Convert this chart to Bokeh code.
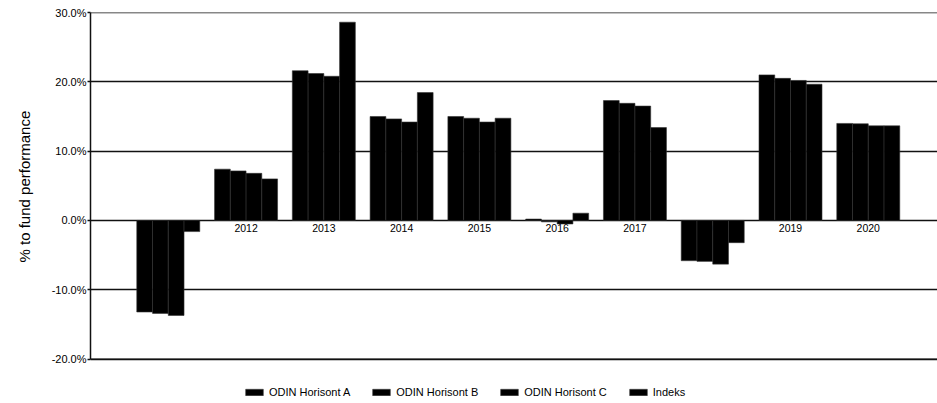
from bokeh.plotting import figure
from bokeh.models import Range1d, FixedTicker, PrintfTickFormatter, Legend, LegendItem, ColumnDataSource, Span, Title
from bokeh.core.properties import value
from bokeh.embed import file_html
from bokeh.resources import INLINE

years = [2011, 2012, 2013, 2014, 2015, 2016, 2017, 2018, 2019, 2020]
year_labels = [str(y) for y in years]
series_names = ["ODIN Horisont A", "ODIN Horisont B", "ODIN Horisont C", "Indeks"]
horisont_a = [-13.2, 7.4, 21.6, 15.0, 15.0, 0.2, 17.3, -5.8, 21.0, 14.0]
horisont_b = [-13.4, 7.15, 21.2, 14.65, 14.75, -0.2, 16.9, -5.9, 20.5, 13.95]
horisont_c = [-13.7, 6.8, 20.8, 14.2, 14.2, -0.5, 16.5, -6.3, 20.2, 13.65]
indeks = [-1.6, 6.0, 28.6, 18.45, 14.75, 1.05, 13.4, -3.2, 19.65, 13.65]
y_ticks = [-20, -10, 0, 10, 20, 30]
y_min, y_max = -20, 30
y_label = "% to fund performance"

FONT = "Liberation Sans"
LINE = "#111111"

# the frame runs down to the bottom so the legend can sit inside it
p = figure(width=937, height=403, output_backend="svg", toolbar_location=None,
           x_range=Range1d(2010.0, 2020.89), y_range=Range1d(-26.4, y_max),
           min_border_left=90, min_border_right=0, min_border_top=12, min_border_bottom=0)
p.outline_line_color = None
p.background_fill_color = "white"
p.border_fill_color = "white"

p.xaxis.visible = False
p.xgrid.visible = False

p.yaxis.ticker = FixedTicker(ticks=y_ticks)
p.yaxis.bounds = (y_min, y_max)
p.yaxis.formatter = PrintfTickFormatter(format="%.1f%%")
p.yaxis.major_label_text_font = FONT
p.yaxis.major_label_text_font_size = "11px"
p.yaxis.major_label_text_color = "black"
p.yaxis.major_label_standoff = 1
p.yaxis.major_tick_out = 3
p.yaxis.major_tick_in = 0
p.yaxis.major_tick_line_color = LINE
p.yaxis.major_tick_line_width = 1.5
p.yaxis.minor_tick_line_color = None
p.yaxis.axis_line_color = LINE
p.yaxis.axis_line_width = 1.5

p.ygrid.ticker = FixedTicker(ticks=y_ticks)
p.ygrid.grid_line_color = LINE
p.ygrid.grid_line_width = 1.5
p.ygrid.grid_line_alpha = 1.0

p.add_layout(Title(text=y_label, align="left", offset=141, standoff=28, vertical_align="top",
                   text_font=FONT, text_font_size="15px", text_font_style="normal",
                   text_color="black"), "left")

# lines at the top and bottom of the value range
for edge in (y_min, y_max):
    p.add_layout(Span(location=edge, dimension="width", line_color=LINE, line_width=1.5))

# year labels at the zero line, beneath the bars
lbl = ColumnDataSource(dict(x=years, y=[0] * len(years), t=year_labels))
p.text(x="x", y="y", text="t", source=lbl, text_align="center", text_baseline="top",
       y_offset=4, text_font=value(FONT), text_font_size="10.5px", text_color="black",
       level="underlay")

bw = 0.2025
offsets = [-1.5 * bw, -0.5 * bw, 0.5 * bw, 1.5 * bw]
items = []
for name, vals, off in zip(series_names, [horisont_a, horisont_b, horisont_c, indeks], offsets):
    src = ColumnDataSource(dict(x=[y + off for y in years], top=vals))
    r = p.vbar(x="x", top="top", bottom=0, width=bw, source=src,
               fill_color="black", line_color="#333333", line_width=0.6)
    items.append(LegendItem(label=name, renderers=[r]))

legend = Legend(items=items, orientation="horizontal", location=(153, 5),
                glyph_width=22, glyph_height=8, label_height=12, label_standoff=4,
                spacing=20, padding=0, margin=0, border_line_color=None,
                background_fill_alpha=0,
                label_text_font=FONT, label_text_font_size="11px", label_text_color="black")
p.add_layout(legend, "center")

open("out.html", "w").write(file_html(p, INLINE))
